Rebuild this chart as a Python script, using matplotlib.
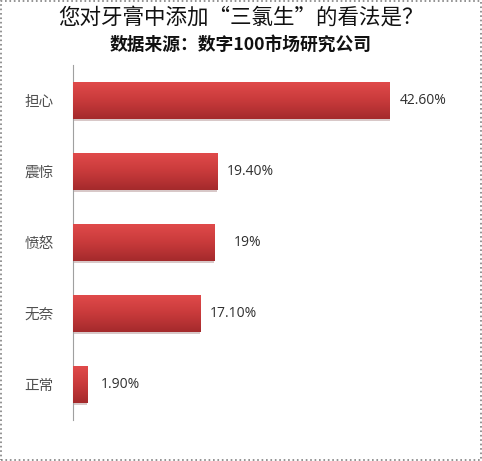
import matplotlib
matplotlib.use('Agg')
import matplotlib.pyplot as plt
import numpy as np
from matplotlib.colors import LinearSegmentedColormap
from matplotlib.patches import Rectangle

plt.rcParams['font.family'] = ['Noto Sans CJK SC', 'DejaVu Sans']

# data
categories = ['担心', '震惊', '愤怒', '无奈', '正常']
values = [42.6, 19.4, 19.0, 17.1, 1.9]
value_labels = ['42.60%', '19.40%', '19%', '17.10%', '1.90%']
title = '您对牙膏中添加“三氯生”的看法是？'
subtitle = '数据来源：数字100市场研究公司'

W, H = 482, 461
fig = plt.figure(figsize=(W / 100, H / 100), dpi=100)
fig.patch.set_facecolor('white')

# axes: left edge at x=73px, from y=65 to y=420
ax = fig.add_axes([73 / W, (H - 420) / H, 372 / W, 355 / H])
ypos = np.arange(len(categories))
bars = ax.barh(ypos, values, height=0.51, color='#C43638', zorder=2)

# red gradient on each bar (light top, dark bottom)
cmap = LinearSegmentedColormap.from_list('redgrad', ['#E04A4A', '#C83A3B', '#A42A2C'])
grad = np.linspace(0, 1, 64).reshape(-1, 1)
for b in bars:
    x0, y0 = b.get_x(), b.get_y()
    w, h = b.get_width(), b.get_height()
    im = ax.imshow(grad, cmap=cmap, aspect='auto', extent=(x0, x0 + w, y0 + h, y0),
                   origin='upper', zorder=3)
    im.set_clip_path(b)
    # soft shadow under the bar
    ax.add_patch(Rectangle((x0, y0 + h), w, 0.04, color='#D8C8C8', zorder=1, lw=0))

ax.set_xlim(0, 50)
ax.set_ylim(len(categories) - 0.5, -0.5)
ax.set_yticks(ypos)
ax.set_yticklabels(categories, fontsize=10.5, color='#505050')
ax.tick_params(axis='y', length=0, pad=14)
ax.set_xticks([])
for s in ['top', 'right', 'bottom']:
    ax.spines[s].set_visible(False)
ax.spines['left'].set_color('#A0A0A0')
ax.spines['left'].set_linewidth(0.8)

for b, lab in zip(bars, value_labels):
    ax.annotate(lab, (b.get_width(), b.get_y() + b.get_height() / 2),
                xytext=(33, 0), textcoords='offset pixels',
                ha='center', va='center', fontsize=10, color='#303030',
                family=['Open Sans', 'DejaVu Sans'])

fig.text(0.5, 1 - 18 / H, title, ha='center', va='center', fontsize=15.5, color='#111111')
fig.text(0.5, 1 - 45 / H, subtitle, ha='center', va='center', fontsize=12.8,
         color='#111111', fontweight='bold')

# dotted frame around the picture
fig.patches.append(Rectangle((0.002, 0.002), 0.996, 0.996, transform=fig.transFigure,
                             fill=False, edgecolor='#808080', linestyle=':', lw=1.2))

fig.savefig('out.png', dpi=100)
